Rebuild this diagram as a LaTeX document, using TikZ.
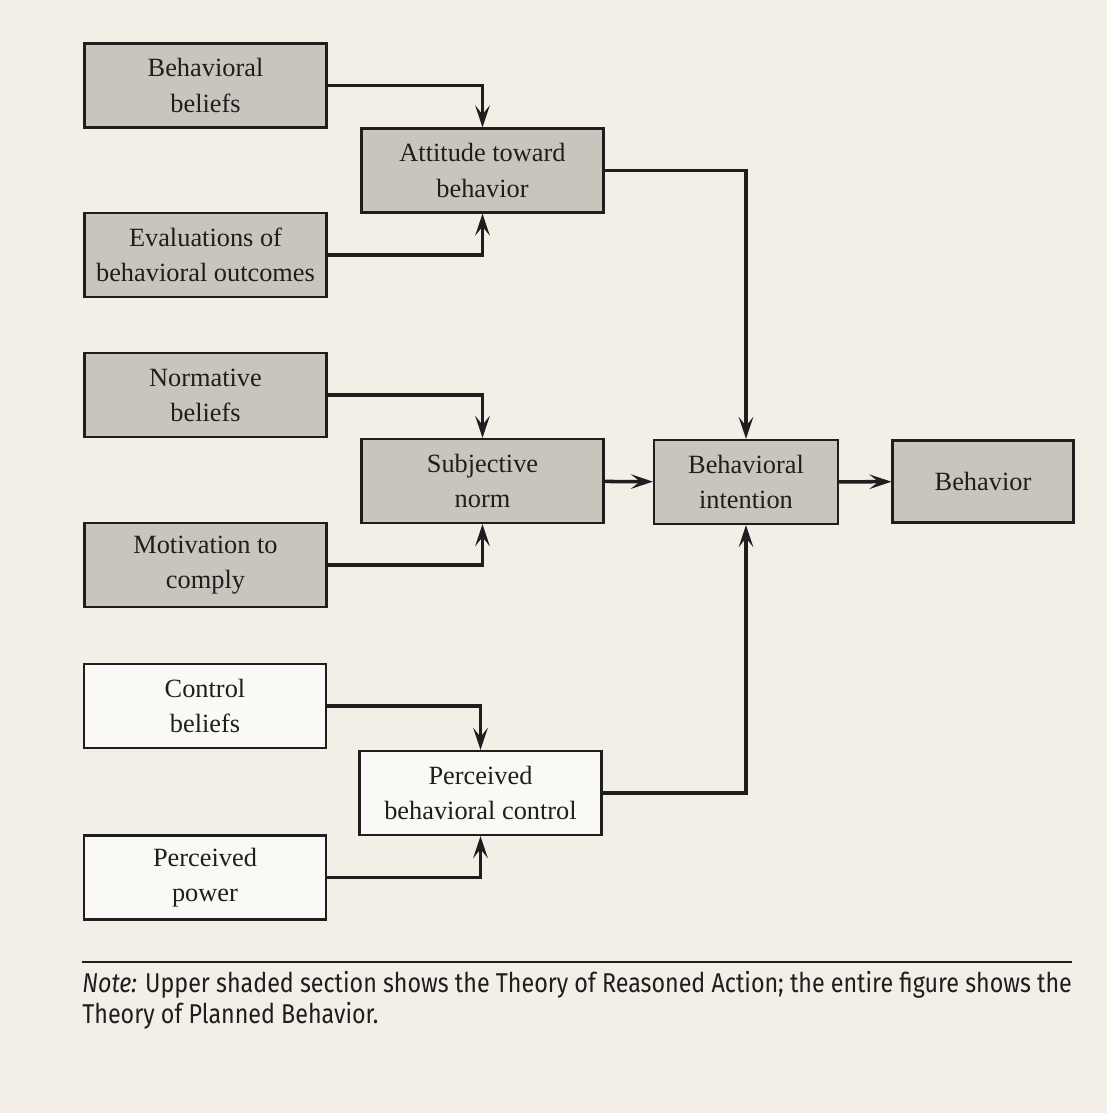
\documentclass[tikz,border=0pt]{standalone}
\usepackage{fontspec}
\setmainfont{Liberation Serif}
\newfontfamily\notefont[FakeStretch=0.855]{Fira Sans}
\usepackage{xcolor}
\definecolor{paper}{HTML}{F3EFE6}
\definecolor{boxgray}{HTML}{C9C5BC}
\definecolor{inkdark}{HTML}{1E1E1E}
\usetikzlibrary{positioning, arrows.meta}
\tikzset{
  >={Stealth[length=4.4mm, width=2.9mm, inset=1.8mm]},
  every node/.style={font=\fontsize{15}{20}\selectfont, text=inkdark},
  shadedbox/.style={
    rectangle, draw=inkdark, line width=1.2pt, fill=boxgray,
    minimum width=4.84cm, minimum height=1.68cm, align=center,
    inner sep=2pt
  },
  plainbox/.style={shadedbox, fill=white!60!paper},
  flowarrow/.style={->, inkdark, line width=2pt},
  notetext/.style={font=\notefont\fontsize{15.5}{17.5}\selectfont,
    align=left, anchor=north west, inner sep=0pt}
}

\begin{document}
\begin{tikzpicture}[x=0.02cm, y=-0.02cm]

% ── Page (cream scan background) ─────────────────────────────────────────────
\fill[paper] (0,0) rectangle (1107,1113);
\useasboundingbox (0,0) rectangle (1107,1113);

% ── Attitude branch ──────────────────────────────────────────────────────────
\node[shadedbox] (bb)   at (205.5, 85.5) {Behavioral\\beliefs};
\node[shadedbox] (att)  at (482.5,170.5) {Attitude toward\\behavior};
\node[shadedbox] (eval) at (205.5,255)   {Evaluations of\\behavioral outcomes};

% ── Norm branch ──────────────────────────────────────────────────────────────
\node[shadedbox] (norm)   at (205.5,395) {Normative\\beliefs};
\node[shadedbox] (subj)   at (482.5,481) {Subjective\\norm};
\node[shadedbox] (motiv)  at (205.5,565) {Motivation to\\comply};

% ── Intention and behavior ───────────────────────────────────────────────────
\node[shadedbox, minimum width=3.68cm] (intent) at (746,482) {Behavioral\\intention};
\node[shadedbox, minimum width=3.62cm, minimum height=1.64cm] (behav) at (983,481.5) {Behavior};

% ── Control branch (unshaded, TPB only) ──────────────────────────────────────
\node[plainbox] (ctrl)  at (205,706)   {Control\\beliefs};
\node[plainbox] (pbc)   at (480.5,793) {Perceived\\behavioral control};
\node[plainbox] (power) at (205,877.5) {Perceived\\power};

% ── Connectors ───────────────────────────────────────────────────────────────
\draw[flowarrow] (bb.east)    -| (att.north);
\draw[flowarrow] (eval.east)  -| (att.south);
\draw[flowarrow] (norm.east)  -| (subj.north);
\draw[flowarrow] (motiv.east) -| (subj.south);
\draw[flowarrow] (ctrl.east)  -| (pbc.north);
\draw[flowarrow] (power.east) -| (pbc.south);
\draw[flowarrow] (att.east)   -| (intent.north);
\draw[flowarrow] (pbc.east)   -| (intent.south);
\draw[flowarrow] (subj)   -- (intent);
\draw[flowarrow] (intent) -- (behav);

% ── Note under the rule ──────────────────────────────────────────────────────
\coordinate (ruleL) at (82,962);
\coordinate (ruleR) at (1072,962);
\draw[inkdark, line width=1.3pt] (ruleL) -- (ruleR);
\node[notetext] (note) at (82,971)
  {\textit{Note:} Upper shaded section shows the Theory of Reasoned Action; the entire figure shows the\\
   Theory of Planned Behavior.};

\end{tikzpicture}
\end{document}
